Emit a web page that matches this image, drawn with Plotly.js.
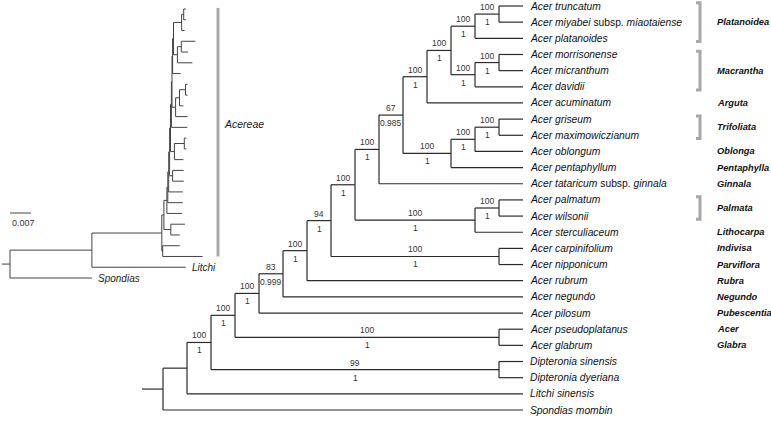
<!DOCTYPE html>
<html><head><meta charset="utf-8">
<script src="https://cdn.plot.ly/plotly-3.0.1.min.js"></script>
<style>html,body{margin:0;padding:0;background:#fff}#chart{width:771px;height:425px}</style>
</head><body><div id="chart"></div>
<script>
// ---------- DATA ----------
const leafNames = [
 '<i>Acer truncatum</i>',
 '<i>Acer miyabei</i> subsp. <i>miaotaiense</i>',
 '<i>Acer platanoides</i>',
 '<i>Acer morrisonense</i>',
 '<i>Acer micranthum</i>',
 '<i>Acer davidii</i>',
 '<i>Acer acuminatum</i>',
 '<i>Acer griseum</i>',
 '<i>Acer maximowiczianum</i>',
 '<i>Acer oblongum</i>',
 '<i>Acer pentaphyllum</i>',
 '<i>Acer tataricum</i> subsp. <i>ginnala</i>',
 '<i>Acer palmatum</i>',
 '<i>Acer wilsonii</i>',
 '<i>Acer sterculiaceum</i>',
 '<i>Acer carpinifolium</i>',
 '<i>Acer nipponicum</i>',
 '<i>Acer rubrum</i>',
 '<i>Acer negundo</i>',
 '<i>Acer pilosum</i>',
 '<i>Acer pseudoplatanus</i>',
 '<i>Acer glabrum</i>',
 '<i>Dipteronia sinensis</i>',
 '<i>Dipteronia dyeriana</i>',
 '<i>Litchi sinensis</i>',
 '<i>Spondias mombin</i>'];

const nodeNames = ['root','Nj','Ni','Ndip','Nh','Nacer','Ng','Nf','Ne','Nd','Ncn','Nc','Nb','Npws','Npw','Na','Npma','Npm','Nplat','Ntm','Nmacr','Nmm','Ngmop','Ngmo','Ngm'];
const nodeChildren = [['Nj',25],['Ni',24],['Nh','Ndip'],[22,23],['Ng','Nacer'],[20,21],['Nf',19],['Ne',18],['Nd',17],['Nc','Ncn'],[15,16],['Nb','Npws'],['Na',11],['Npw',14],[12,13],['Npma','Ngmop'],['Npm',6],['Nplat','Nmacr'],['Ntm',2],[0,1],['Nmm',5],[3,4],['Ngmo',10],['Ngm',9],[7,8]];
const bootstrap = ['','','100','99','100','100','100','83','100','94','100','100','100','100','100','67','100','100','100','100','100','100','100','100','100'];
const posterior = ['','','1','1','1','1','1','0.999','1','1','1','1','1','1','1','0.985','1','1','1','1','1','1','1','1','1'];

// inset phylogram branch lengths (substitutions/site)
const insetNodeLen = [0,0.0273,0.0233,0.0003,0.0007,0.0023,0.0010,0.0003,0.0003,0.0003,0.0010,0.0003,0.0003,0.0013,0.0033,0.0002,0.0002,0.0003,0.0027,0.0007,0.0013,0.0013,0.0012,0.0013,0.0020];
const insetLeafLen = [0.0007,0.0007,0.0010,0.0047,0.0023,0.0050,0.0027,0.0007,0.0007,0.0013,0.0040,0.0053,0.0007,0.0007,0.0030,0.0037,0.0037,0.0047,0.0050,0.0050,0.0047,0.0030,0.0057,0.0133,0.0313,0.0273];
const insetLabels = ['Litchi','Spondias'];
const insetLabelLeaf = [24,25];
const insetGroupName = 'Acereae';
const insetGroupFirst = 0, insetGroupLast = 23;
const scaleBarValue = 0.007;

const sectionNames = ['Platanoidea','Macrantha','Arguta','Trifoliata','Oblonga','Pentaphylla','Ginnala','Palmata','Lithocarpa','Indivisa','Parviflora','Rubra','Negundo','Pubescentia','Acer','Glabra'];
const sectionFirst = [0,3,6,7,9,10,11,12,14,15,16,17,18,19,20,21];
const sectionLast  = [2,5,6,8,9,10,11,13,14,15,16,17,18,19,20,21];

// ---------- TREE GEOMETRY ----------
const nN = nodeNames.length;
const nodeY = new Array(nN), nodeH = new Array(nN), nodeD = new Array(nN);
const parentOfNode = new Array(nN).fill(-1);
function cref(c){ return typeof c === 'number' ? {leaf:c} : {node:nodeNames.indexOf(c)}; }
function calc(n){
  const ch = nodeChildren[n].map(cref);
  let ys=[], hs=[];
  ch.forEach(c=>{
    if (c.leaf!==undefined){ ys.push(c.leaf); hs.push(0); }
    else { parentOfNode[c.node]=n; calc(c.node); ys.push(nodeY[c.node]); hs.push(nodeH[c.node]); }
  });
  nodeY[n] = (ys[0]+ys[ys.length-1])/2;
  nodeH[n] = 1+Math.max(...hs);
}
calc(0);
const H = nodeH[0];
const mx = n => H - nodeH[n];
function dist(n, d){
  nodeD[n]=d;
  nodeChildren[n].map(cref).forEach(c=>{ if(c.node!==undefined) dist(c.node, d+insetNodeLen[c.node]); });
}
dist(0,0);

const mainX=[], mainY=[], insX=[], insY=[];
const leafDist = new Array(leafNames.length);
for(let n=0;n<nN;n++){
  const ch = nodeChildren[n].map(cref);
  const cy = ch.map(c=> c.leaf!==undefined ? c.leaf : nodeY[c.node]);
  mainX.push(mx(n),mx(n),null); mainY.push(cy[0],cy[cy.length-1],null);
  insX.push(nodeD[n],nodeD[n],null); insY.push(cy[0],cy[cy.length-1],null);
  ch.forEach((c,k)=>{
    const xe = c.leaf!==undefined ? H : mx(c.node);
    mainX.push(mx(n),xe,null); mainY.push(cy[k],cy[k],null);
    const de = c.leaf!==undefined ? nodeD[n]+insetLeafLen[c.leaf] : nodeD[c.node];
    if(c.leaf!==undefined) leafDist[c.leaf]=de;
    insX.push(nodeD[n],de,null); insY.push(cy[k],cy[k],null);
  });
}
mainX.push(-0.875,0,null); mainY.push(nodeY[0],nodeY[0],null);
insX.push(-0.0027,0,null); insY.push(nodeY[0],nodeY[0],null);

// ---------- LAYOUT CONSTANTS ----------
const FONT = 'Liberation Sans, Arial, sans-serif';
const pxPerX = 24, rootPx = 163;
const pxPerY = 16.16, topPx = 6;
const W=771, Hh=425;
const inPxPerX = 3000, inRootPx = 10, inPxPerY = 10.76, inTopPx = 9;

const ann = [];
leafNames.forEach((t,i)=>ann.push({x:H,y:i,xref:'x',yref:'y',text:t,showarrow:false,xanchor:'left',xshift:5,
  font:{family:FONT,size:10.3,color:'#111'}}));
for(let n=0;n<nN;n++){
  if(!bootstrap[n]) continue;
  const p = parentOfNode[n];
  const xm = (mx(p)+mx(n))/2;
  ann.push({x:xm,y:nodeY[n],xref:'x',yref:'y',text:bootstrap[n],showarrow:false,yshift:7,font:{family:FONT,size:8.5,color:'#333'}});
  ann.push({x:xm,y:nodeY[n],xref:'x',yref:'y',text:posterior[n],showarrow:false,yshift:-8,font:{family:FONT,size:8.5,color:'#333'}});
}
const secX = (715-rootPx)/pxPerX, brX = (700-rootPx)/pxPerX, tick = 4/pxPerX;
const brXs=[], brYs=[];
sectionNames.forEach((s,k)=>{
  const a=sectionFirst[k], b=sectionLast[k];
  ann.push({x:secX,y:(a+b)/2,xref:'x',yref:'y',text:'<b><i>'+s+'</i></b>',showarrow:false,xanchor:'left',
    font:{family:FONT,size:9.3,color:'#111'}});
  if(b>a){ brXs.push(brX-tick,brX,brX,brX-tick,null); brYs.push(a-0.2,a-0.2,b+0.2,b+0.2,null); }
});
insetLabels.forEach((t,k)=>{
  const li=insetLabelLeaf[k];
  ann.push({x:leafDist[li],y:li,xref:'x2',yref:'y2',text:'<i>'+t+'</i>',showarrow:false,xanchor:'left',xshift:4,
    font:{family:FONT,size:10,color:'#222'}});
});
const grpX = (218-inRootPx)/inPxPerX;
ann.push({x:grpX,y:(insetGroupFirst+insetGroupLast)/2,xref:'x2',yref:'y2',text:'<i>'+insetGroupName+'</i>',showarrow:false,
  xanchor:'left',xshift:4,yshift:9,font:{family:FONT,size:10.5,color:'#222'}});
const sbY = (213-inTopPx)/inPxPerY;
ann.push({x:0,y:sbY,xref:'x2',yref:'y2',text:String(scaleBarValue),showarrow:false,xanchor:'left',yshift:-10,
  font:{family:FONT,size:9,color:'#333'}});

const traces = [
 {type:'scatter',mode:'lines',x:mainX,y:mainY,xaxis:'x',yaxis:'y',line:{color:'#2b2b2b',width:1.2},hoverinfo:'skip'},
 {type:'scatter',mode:'lines',x:brXs,y:brYs,xaxis:'x',yaxis:'y',line:{color:'#a8a8a8',width:3},hoverinfo:'skip'},
 {type:'scatter',mode:'lines',x:insX,y:insY,xaxis:'x2',yaxis:'y2',line:{color:'#444',width:1},hoverinfo:'skip'},
 {type:'scatter',mode:'lines',x:[grpX,grpX],y:[insetGroupFirst-0.1,insetGroupLast],xaxis:'x2',yaxis:'y2',line:{color:'#a8a8a8',width:3},hoverinfo:'skip'},
 {type:'scatter',mode:'lines',x:[0,scaleBarValue],y:[sbY,sbY],xaxis:'x2',yaxis:'y2',line:{color:'#444',width:1},hoverinfo:'skip'}
];

const ax = {visible:false,showgrid:false,zeroline:false,fixedrange:true};
const layout = {
  width:W,height:Hh,margin:{l:0,r:0,t:0,b:0},showlegend:false,
  paper_bgcolor:'#fff',plot_bgcolor:'rgba(0,0,0,0)',
  xaxis:Object.assign({},ax,{range:[-rootPx/pxPerX,(W-rootPx)/pxPerX]}),
  yaxis:Object.assign({},ax,{range:[(Hh-topPx)/pxPerY,-topPx/pxPerY]}),
  xaxis2:Object.assign({},ax,{overlaying:'x',anchor:'y2',range:[-inRootPx/inPxPerX,(W-inRootPx)/inPxPerX]}),
  yaxis2:Object.assign({},ax,{overlaying:'y',anchor:'x2',range:[(Hh-inTopPx)/inPxPerY,-inTopPx/inPxPerY]}),
  annotations:ann
};
Plotly.newPlot('chart',traces,layout,{displayModeBar:false,staticPlot:true});
</script></body></html>
